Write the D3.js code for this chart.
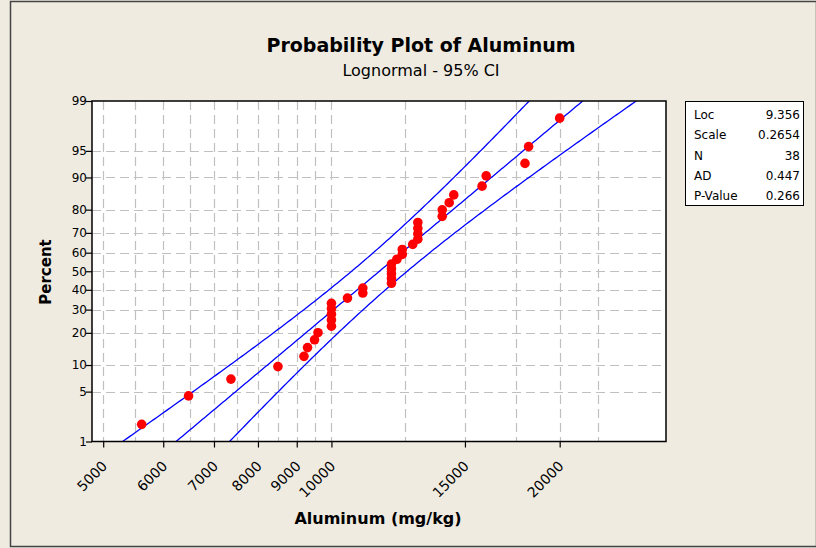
<!DOCTYPE html>
<html>
<head>
<meta charset="utf-8">
<script src="https://cdn.jsdelivr.net/npm/d3@7"></script>
<style>
  body { margin: 0; background: #efebe1; }
  text { font-family: "DejaVu Sans", Verdana, sans-serif; }
</style>
</head>
<body>
<div id="chart"></div>
<script>
// sorted sample values (mg/kg)
const aluminum = [5620, 6480, 7370, 8500, 9200, 9300, 9500, 9600,
  10000, 10000, 10000, 10000, 10000, 10500, 11000, 11000,
  12000, 12000, 12000, 12000, 12000, 12200, 12400, 12400, 12800,
  13000, 13000, 13000, 13000, 14000, 14000, 14300, 14500,
  15800, 16000, 18000, 18200, 20000];

// fitted lognormal parameters
const fitLoc = 9.356;
const fitScale = 0.2654;

const statLabels = ["Loc", "Scale", "N", "AD", "P-Value"];
const statValues = ["9.356", "0.2654", "38", "0.447", "0.266"];

const xTicks = [5000, 6000, 7000, 8000, 9000, 10000, 15000, 20000];
const xGrid = [5000, 5500, 6000, 6500, 7000, 7500, 8000, 8500, 9000, 9500, 10000,
  12500, 15000, 17500, 20000, 22500];
const pctTicks = [1, 5, 10, 20, 30, 40, 50, 60, 70, 80, 90, 95, 99];

// inverse standard normal cdf (Acklam)
function qnorm(p) {
  const a = [-3.969683028665376e+01, 2.209460984245205e+02, -2.759285104469687e+02, 1.383577518672690e+02, -3.066479806614716e+01, 2.506628277459239e+00];
  const b = [-5.447609879822406e+01, 1.615858368580409e+02, -1.556989798598866e+02, 6.680131188771972e+01, -1.328068155288572e+01];
  const c = [-7.784894002430293e-03, -3.223964580411365e-01, -2.400758277161838e+00, -2.549732539343734e+00, 4.374664141464968e+00, 2.938163982698783e+00];
  const d = [7.784695709041462e-03, 3.224671290700398e-01, 2.445134137142996e+00, 3.754408661907416e+00];
  const pl = 0.02425;
  let q, r;
  if (p < pl) {
    q = Math.sqrt(-2 * Math.log(p));
    return (((((c[0]*q+c[1])*q+c[2])*q+c[3])*q+c[4])*q+c[5]) / ((((d[0]*q+d[1])*q+d[2])*q+d[3])*q+1);
  }
  if (p > 1 - pl) {
    q = Math.sqrt(-2 * Math.log(1 - p));
    return -(((((c[0]*q+c[1])*q+c[2])*q+c[3])*q+c[4])*q+c[5]) / ((((d[0]*q+d[1])*q+d[2])*q+d[3])*q+1);
  }
  q = p - 0.5; r = q * q;
  return (((((a[0]*r+a[1])*r+a[2])*r+a[3])*r+a[4])*r+a[5])*q / (((((b[0]*r+b[1])*r+b[2])*r+b[3])*r+b[4])*r+1);
}

const width = 816, height = 548;
const plot = { left: 92, right: 666, top: 101, bottom: 441.5 };

const svg = d3.select("#chart").append("svg")
  .attr("width", width).attr("height", height);

// frame
svg.append("rect").attr("x", 10.5).attr("y", 1.5).attr("width", 806).attr("height", 545)
  .attr("fill", "#efebe1").attr("stroke", "#444").attr("stroke-width", 1.5);

const x = d3.scaleLog().domain([4833, 27622]).range([plot.left, plot.right]);
const y = d3.scaleLinear().domain([qnorm(0.01), qnorm(0.99)]).range([plot.bottom, plot.top]);

svg.append("rect")
  .attr("x", plot.left).attr("y", plot.top)
  .attr("width", plot.right - plot.left).attr("height", plot.bottom - plot.top)
  .attr("fill", "#fff");

// grid
const grid = svg.append("g").attr("stroke", "#c0c0c0").attr("stroke-width", 1.2)
  .attr("stroke-dasharray", "9,5");
grid.selectAll(".gx").data(xGrid).join("line")
  .attr("x1", d => Math.round(x(d)) + 0.5).attr("x2", d => Math.round(x(d)) + 0.5)
  .attr("y1", plot.top).attr("y2", plot.bottom);
grid.selectAll(".gy").data(pctTicks.slice(1, -1)).join("line")
  .attr("x1", plot.left).attr("x2", plot.right)
  .attr("y1", d => Math.round(y(qnorm(d / 100))) + 0.5)
  .attr("y2", d => Math.round(y(qnorm(d / 100))) + 0.5);

// fitted line and 95% CI
const n = aluminum.length;
const zs = d3.range(0, 201).map(i => qnorm(0.01) + i * (qnorm(0.99) - qnorm(0.01)) / 200);
const half = z => 1.959964 * fitScale * Math.sqrt(1 / n + z * z / (2 * n));
const bands = [
  zs.map(z => [Math.exp(fitLoc + fitScale * z - half(z)), z]),
  zs.map(z => [Math.exp(fitLoc + fitScale * z), z]),
  zs.map(z => [Math.exp(fitLoc + fitScale * z + half(z)), z])
];
svg.append("clipPath").attr("id", "clip").append("rect")
  .attr("x", plot.left).attr("y", plot.top)
  .attr("width", plot.right - plot.left).attr("height", plot.bottom - plot.top);
const line = d3.line().x(d => x(d[0])).y(d => y(d[1]));
svg.append("g").attr("clip-path", "url(#clip)").selectAll("path").data(bands).join("path")
  .attr("d", line).attr("fill", "none").attr("stroke", "#0000ff").attr("stroke-width", 1.3);

// points, median ranks
svg.append("g").selectAll("circle").data(aluminum).join("circle")
  .attr("cx", d => x(d))
  .attr("cy", (d, i) => y(qnorm((i + 1 - 0.3) / (n + 0.4))))
  .attr("r", 4.8)
  .attr("fill", "#ff0000");

// border
svg.append("rect")
  .attr("x", plot.left).attr("y", plot.top)
  .attr("width", plot.right - plot.left).attr("height", plot.bottom - plot.top)
  .attr("fill", "none").attr("stroke", "#000").attr("stroke-width", 1.5);

// axes
const xAxis = svg.append("g").attr("transform", `translate(0,${plot.bottom})`)
  .call(d3.axisBottom(x).tickValues(xTicks).tickFormat(d3.format("d")).tickSize(6).tickSizeOuter(0));
xAxis.select(".domain").remove();
xAxis.selectAll("line").attr("stroke", "#000").attr("stroke-width", 1.2);
xAxis.selectAll("text")
  .attr("font-size", 14).attr("fill", "#000")
  .attr("text-anchor", "end")
  .attr("transform", "translate(1,22) rotate(-45)")
  .attr("dy", "0.35em").attr("y", 0).attr("x", 0);

const yAxis = svg.append("g").attr("transform", `translate(${plot.left},0)`)
  .call(d3.axisLeft(y).tickValues(pctTicks.map(p => qnorm(p / 100)))
    .tickFormat((d, i) => pctTicks[i]).tickSize(6).tickSizeOuter(0));
yAxis.select(".domain").remove();
yAxis.selectAll("line").attr("stroke", "#000").attr("stroke-width", 1.2);
yAxis.selectAll("text").attr("font-size", 12).attr("fill", "#000").attr("x", -5);

// titles
svg.append("text").attr("x", 421).attr("y", 52).attr("text-anchor", "middle")
  .attr("font-size", 19).attr("font-weight", "bold").text("Probability Plot of Aluminum");
svg.append("text").attr("x", 421).attr("y", 76).attr("text-anchor", "middle")
  .attr("font-size", 16).text("Lognormal - 95% CI");
svg.append("text").attr("x", 378).attr("y", 524).attr("text-anchor", "middle")
  .attr("font-size", 16).attr("font-weight", "bold").text("Aluminum (mg/kg)");
svg.append("text").attr("transform", "translate(51,272) rotate(-90)").attr("text-anchor", "middle")
  .attr("font-size", 15).attr("font-weight", "bold").text("Percent");

// stats box
const box = svg.append("g");
box.append("rect").attr("x", 685.5).attr("y", 101.5).attr("width", 118).attr("height", 104)
  .attr("fill", "#fff").attr("stroke", "#000").attr("stroke-width", 1);
statLabels.forEach((lab, i) => {
  box.append("text").attr("x", 694).attr("y", 119 + i * 20.3).attr("font-size", 12).text(lab);
  box.append("text").attr("x", 800).attr("y", 119 + i * 20.3).attr("font-size", 12)
    .attr("text-anchor", "end").text(statValues[i]);
});
</script>
</body>
</html>
